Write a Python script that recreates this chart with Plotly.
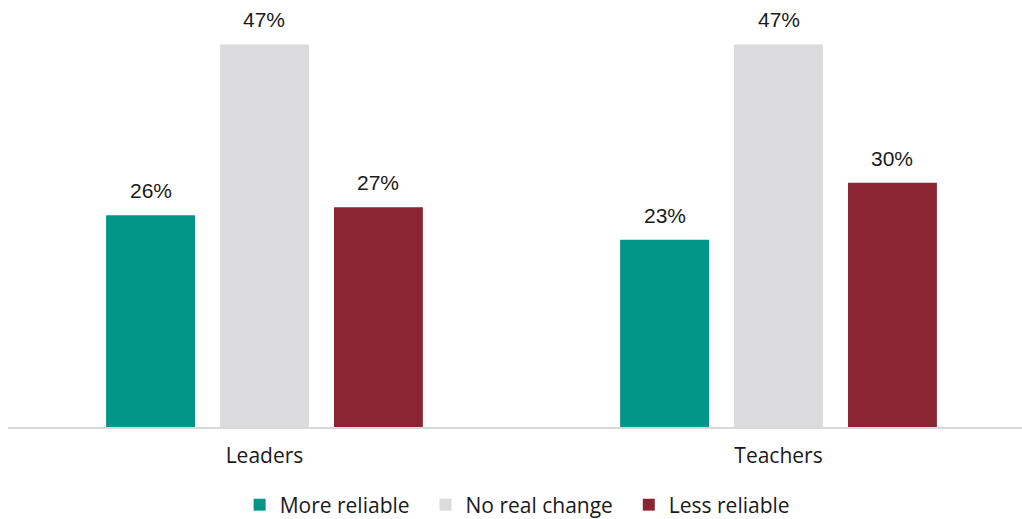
import plotly.graph_objects as go

# Survey responses: perceived change in reliability, by respondent group
categories = ["Leaders", "Teachers"]
series_names = ["More reliable", "No real change", "Less reliable"]
more_reliable = [26, 23]
no_real_change = [47, 47]
less_reliable = [27, 30]
series_values = [more_reliable, no_real_change, less_reliable]
colors = ["#009688", "#DBDBDD", "#8B2533"]

BARGAP = 0.335
BARGROUPGAP = 0.22
TEXT_FONT = "Open Sans, Noto Sans, sans-serif"
NBSP = "\u00a0"

x_pos = list(range(len(categories)))

fig = go.Figure()
for i, (name, vals, col) in enumerate(zip(series_names, series_values, colors)):
    # pad all but the last legend entry so the entries sit further apart
    label = name if i == len(series_names) - 1 else name + NBSP * 2
    fig.add_trace(go.Bar(
        name=label,
        x=x_pos,
        y=[v / 100 for v in vals],
        marker=dict(color=col, line=dict(width=0)),
        hoverinfo="skip",
    ))

# Value labels above each bar, placed at the centre of the bar's slot
n = len(series_values)
slot = (1 - BARGAP) / n
for i, vals in enumerate(series_values):
    offset = (i - (n - 1) / 2) * slot
    for xi, v in zip(x_pos, vals):
        fig.add_annotation(
            x=xi + offset, y=v / 100, xref="x", yref="y",
            text=f"{v}%", showarrow=False,
            yanchor="bottom", yshift=11,
            font=dict(family="Liberation Sans, Arial", size=21, color="#1a1a1a"),
        )

fig.update_layout(
    width=1022, height=519,
    margin=dict(l=8, r=0, t=20, b=92),
    paper_bgcolor="white", plot_bgcolor="white",
    barmode="group", bargap=BARGAP, bargroupgap=BARGROUPGAP,
    showlegend=True,
    legend=dict(
        orientation="h", xref="container", yref="container",
        x=0.506, xanchor="center", y=0.027, yanchor="middle",
        font=dict(family=TEXT_FONT, size=21, color="#1a1a1a"),
        itemwidth=30, traceorder="normal",
        bgcolor="rgba(0,0,0,0)",
    ),
    xaxis=dict(
        tickmode="array", tickvals=x_pos, ticktext=categories,
        range=[-0.499, 1.4737],
        showgrid=False, zeroline=False,
        showline=True, linecolor="#D9D9D9", linewidth=2,
        ticks="", ticklabelstandoff=9,
        tickfont=dict(family=TEXT_FONT, size=21, color="#1a1a1a"),
        fixedrange=True,
    ),
    yaxis=dict(
        range=[0, 0.5], visible=False, showgrid=False, zeroline=False,
        fixedrange=True,
    ),
)

fig.write_html("out.html")
